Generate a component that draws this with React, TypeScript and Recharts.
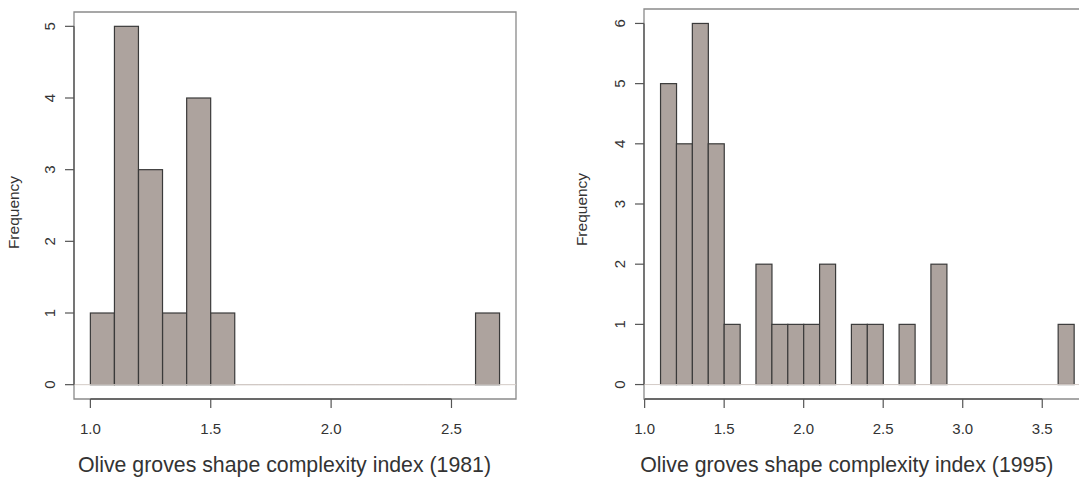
import React from "react";
import {
  ComposedChart,
  Bar,
  XAxis,
  YAxis,
  ReferenceLine,
  ReferenceArea,
} from "recharts";

// 1981 histogram: bin breaks and counts
const breaks1981 = [
  1.0, 1.1, 1.2, 1.3, 1.4, 1.5, 1.6, 1.7, 1.8, 1.9, 2.0, 2.1, 2.2, 2.3, 2.4,
  2.5, 2.6, 2.7,
];
const counts1981 = [1, 5, 3, 1, 4, 1, 0, 0, 0, 0, 0, 0, 0, 0, 0, 0, 1];
const xTicks1981 = [1.0, 1.5, 2.0, 2.5];
const yTicks1981 = [0, 1, 2, 3, 4, 5];

// 1995 histogram
const breaks1995 = [
  1.1, 1.2, 1.3, 1.4, 1.5, 1.6, 1.7, 1.8, 1.9, 2.0, 2.1, 2.2, 2.3, 2.4, 2.5,
  2.6, 2.7, 2.8, 2.9, 3.0, 3.1, 3.2, 3.3, 3.4, 3.5, 3.6, 3.7,
];
const counts1995 = [
  5, 4, 6, 4, 1, 0, 2, 1, 1, 1, 2, 0, 1, 1, 0, 1, 0, 2, 0, 0, 0, 0, 0, 0, 0, 1,
];
const xTicks1995 = [1.0, 1.5, 2.0, 2.5, 3.0, 3.5];
const yTicks1995 = [0, 1, 2, 3, 4, 5, 6];

const FONT = '"Liberation Sans", Arial, Helvetica, sans-serif';
const FILL = "#ada39e";
const EDGE = "#3a3a3a";
const TEXT = "#333333";
const AXIS = "#555555";
const BOX = "#8a8a8a";

// R-style hist bar: zero bins are just a faint line on the baseline
const HistRect = (p: any) => {
  const { x, y, width, height } = p;
  if (!height || Math.abs(height) < 0.5) {
    return (
      <line x1={x} x2={x + width} y1={y} y2={y} stroke="#bdb5b1" strokeWidth={1} />
    );
  }
  return (
    <rect
      x={x}
      y={y}
      width={width}
      height={height}
      fill={FILL}
      stroke={EDGE}
      strokeWidth={1.2}
    />
  );
};

type HistProps = {
  breaks: number[];
  counts: number[];
  xTicks: number[];
  yTicks: number[];
  xDomain: [number, number];
  yDomain: [number, number];
  title: string;
  left: number;
  top: number;
  right: number;
  yAxisWidth: number;
  labelX: number;
  labelY: number;
  titleX: number;
};

function Histogram({
  breaks,
  counts,
  xTicks,
  yTicks,
  xDomain,
  yDomain,
  title,
  left,
  top,
  right,
  yAxisWidth,
  labelX,
  labelY,
  titleX,
}: HistProps) {
  const data = counts.map((c, i) => ({
    mid: (breaks[i] + breaks[i + 1]) / 2,
    count: c,
  }));
  const yMax = yTicks[yTicks.length - 1];
  const tickBaseX = yAxisWidth - 19;

  return (
    <div style={{ position: "absolute", left, top: 0 }}>
      <ComposedChart
        width={540}
        height={480}
        data={data}
        margin={{ top, right, bottom: 0, left: 0 }}
        barCategoryGap={0}
        barGap={0}
      >
        <XAxis
          dataKey="mid"
          type="number"
          domain={xDomain}
          ticks={xTicks}
          interval={0}
          height={81}
          axisLine={false}
          tickLine={{ stroke: AXIS, strokeWidth: 1.2 }}
          tickSize={9}
          tick={(p: any) => (
            <text
              x={p.x}
              y={433.5}
              textAnchor="middle"
              fill={TEXT}
              fontSize={15}
              fontFamily={FONT}
            >
              {Number(p.payload.value).toFixed(1)}
            </text>
          )}
          label={(_: any) => (
            <text
              x={titleX}
              y={471.5}
              textAnchor="middle"
              fill={TEXT}
              fontSize={21.3}
              fontFamily={FONT}
            >
              {title}
            </text>
          )}
        />
        <YAxis
          type="number"
          domain={yDomain}
          ticks={yTicks}
          interval={0}
          width={yAxisWidth}
          axisLine={false}
          tickLine={{ stroke: AXIS, strokeWidth: 1.2 }}
          tickSize={9}
          tick={(p: any) => (
            <text
              x={tickBaseX}
              y={p.y}
              transform={`rotate(-90 ${tickBaseX} ${p.y})`}
              textAnchor="middle"
              fill={TEXT}
              fontSize={15}
              fontFamily={FONT}
            >
              {p.payload.value}
            </text>
          )}
          label={(_: any) => (
            <text
              x={labelX}
              y={labelY}
              transform={`rotate(-90 ${labelX} ${labelY})`}
              textAnchor="middle"
              fill={TEXT}
              fontSize={15.5}
              fontFamily={FONT}
            >
              Frequency
            </text>
          )}
        />
        <ReferenceArea
          x1={xDomain[0]}
          x2={xDomain[1]}
          y1={yDomain[0]}
          y2={yDomain[1]}
          fill="none"
          fillOpacity={0}
          stroke={BOX}
          strokeWidth={1.3}
          ifOverflow="visible"
        />
        <ReferenceLine y={0} stroke="#d3cbc7" strokeWidth={1} />
        <Bar dataKey="count" shape={HistRect} isAnimationActive={false} />
        <ReferenceLine
          segment={[
            { x: xTicks[0], y: yDomain[0] },
            { x: xTicks[xTicks.length - 1], y: yDomain[0] },
          ]}
          stroke={AXIS}
          strokeWidth={1.3}
          ifOverflow="visible"
        />
        <ReferenceLine
          segment={[
            { x: xDomain[0], y: 0 },
            { x: xDomain[0], y: yMax },
          ]}
          stroke={AXIS}
          strokeWidth={1.3}
          ifOverflow="visible"
        />
      </ComposedChart>
    </div>
  );
}

export default function App() {
  return (
    <div
      style={{
        position: "absolute",
        left: 0,
        top: 0,
        width: 1079,
        height: 480,
        overflow: "hidden",
        background: "#ffffff",
      }}
    >
      <Histogram
        breaks={breaks1981}
        counts={counts1981}
        xTicks={xTicks1981}
        yTicks={yTicks1981}
        xDomain={[0.932, 2.768]}
        yDomain={[-0.2, 5.2]}
        title="Olive groves shape complexity index (1981)"
        left={0}
        top={12}
        right={24}
        yAxisWidth={74}
        labelX={19}
        labelY={212.5}
        titleX={284.5}
      />
      <Histogram
        breaks={breaks1995}
        counts={counts1995}
        xTicks={xTicks1995}
        yTicks={yTicks1995}
        xDomain={[0.996, 3.804]}
        yDomain={[-0.24, 6.24]}
        title="Olive groves shape complexity index (1995)"
        left={560}
        top={9}
        right={9.4}
        yAxisWidth={84}
        labelX={27.3}
        labelY={209.5}
        titleX={286.8}
      />
    </div>
  );
}
